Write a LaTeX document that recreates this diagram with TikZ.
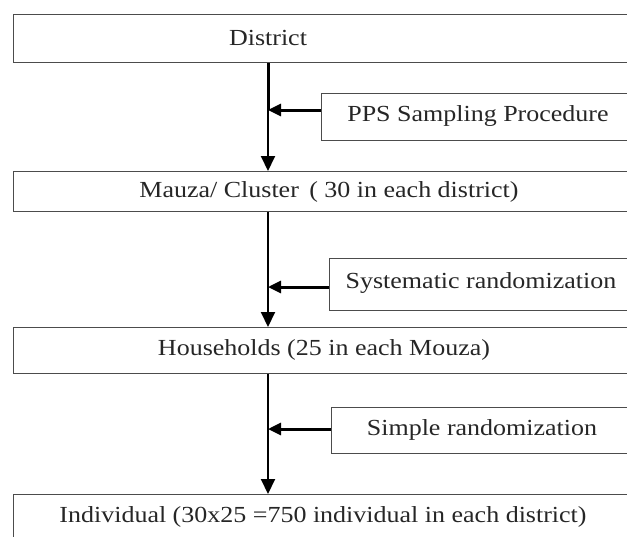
\documentclass[tikz,border=0pt]{standalone}
\usepackage{fontspec}
\setmainfont[FakeStretch=1.13]{Liberation Serif}
\usepackage{tikz}
\usetikzlibrary{positioning}
\usetikzlibrary{calc,arrows.meta}

\tikzset{
    stagebox/.style={draw=black!70, line width=1.1pt, anchor=north west, inner sep=0pt, minimum width=660pt},
    methodbox/.style={draw=black!70, line width=1.1pt, anchor=north west, inner sep=0pt, minimum width=340pt},
    caption/.style={font=\fontsize{23}{27}\selectfont, text=black!85, inner sep=0pt},
    flow/.style={line width=2pt, -{Triangle[length=15pt,width=14pt]}},
    feed/.style={line width=3pt, -{Triangle[length=13pt,width=12pt]}}
}

\begin{document}
\begin{tikzpicture}[x=1pt,y=-1pt]
    \useasboundingbox (0,0) rectangle (627,536);

    % Draw stage boxes
    \node[stagebox, minimum height=48pt] (district) at (13,14) {};
    \node[stagebox, minimum height=40pt] (mauza) at (13,171) {};
    \node[stagebox, minimum height=46pt] (house) at (13,327) {};
    \node[stagebox, minimum height=60pt] (indiv) at (13,494) {};

    % Draw method boxes
    \node[methodbox, minimum height=47pt] (pps) at (321,93) {};
    \node[methodbox, minimum height=52pt] (system) at (329,258) {};
    \node[methodbox, minimum height=46pt] (simple) at (331,407) {};

    % Texts
    \node[caption] (districttext) at (268,38) {District};
    \node[caption] (mauzatext) at (329,192) {Mauza/ Cluster~\,( 30 in each district)};
    \node[caption] (housetext) at (324,350) {Households (25 in each Mouza)};
    \node[caption] (indivtext) at (323,517) {Individual (30x25 =750 individual in each district)};
    \node[caption] (ppstext) at (478,116) {PPS Sampling Procedure};
    \node[caption] (systemtext) at (481,283) {Systematic randomization};
    \node[caption] (simpletext) at (482,430) {Simple randomization};

    % Draw main flow
    \coordinate (spine) at (268,0);
    \coordinate (ppsjoin) at (268,110);
    \coordinate (systemjoin) at (268,287);
    \coordinate (simplejoin) at (268,429);
    \draw[line width=3pt] (district.south -| spine) -- (ppsjoin);
    \draw[flow] (district.south -| spine) -- (mauza.north -| spine);
    \draw[flow] (mauza.south -| spine) -- (house.north -| spine);
    \draw[flow] (house.south -| spine) -- (indiv.north -| spine);

    % Draw side arrows
    \foreach \side in {pps,system,simple} {
        \draw[feed] (\side join -| \side.west) -- (\side join);
    }
\end{tikzpicture}
\end{document}
